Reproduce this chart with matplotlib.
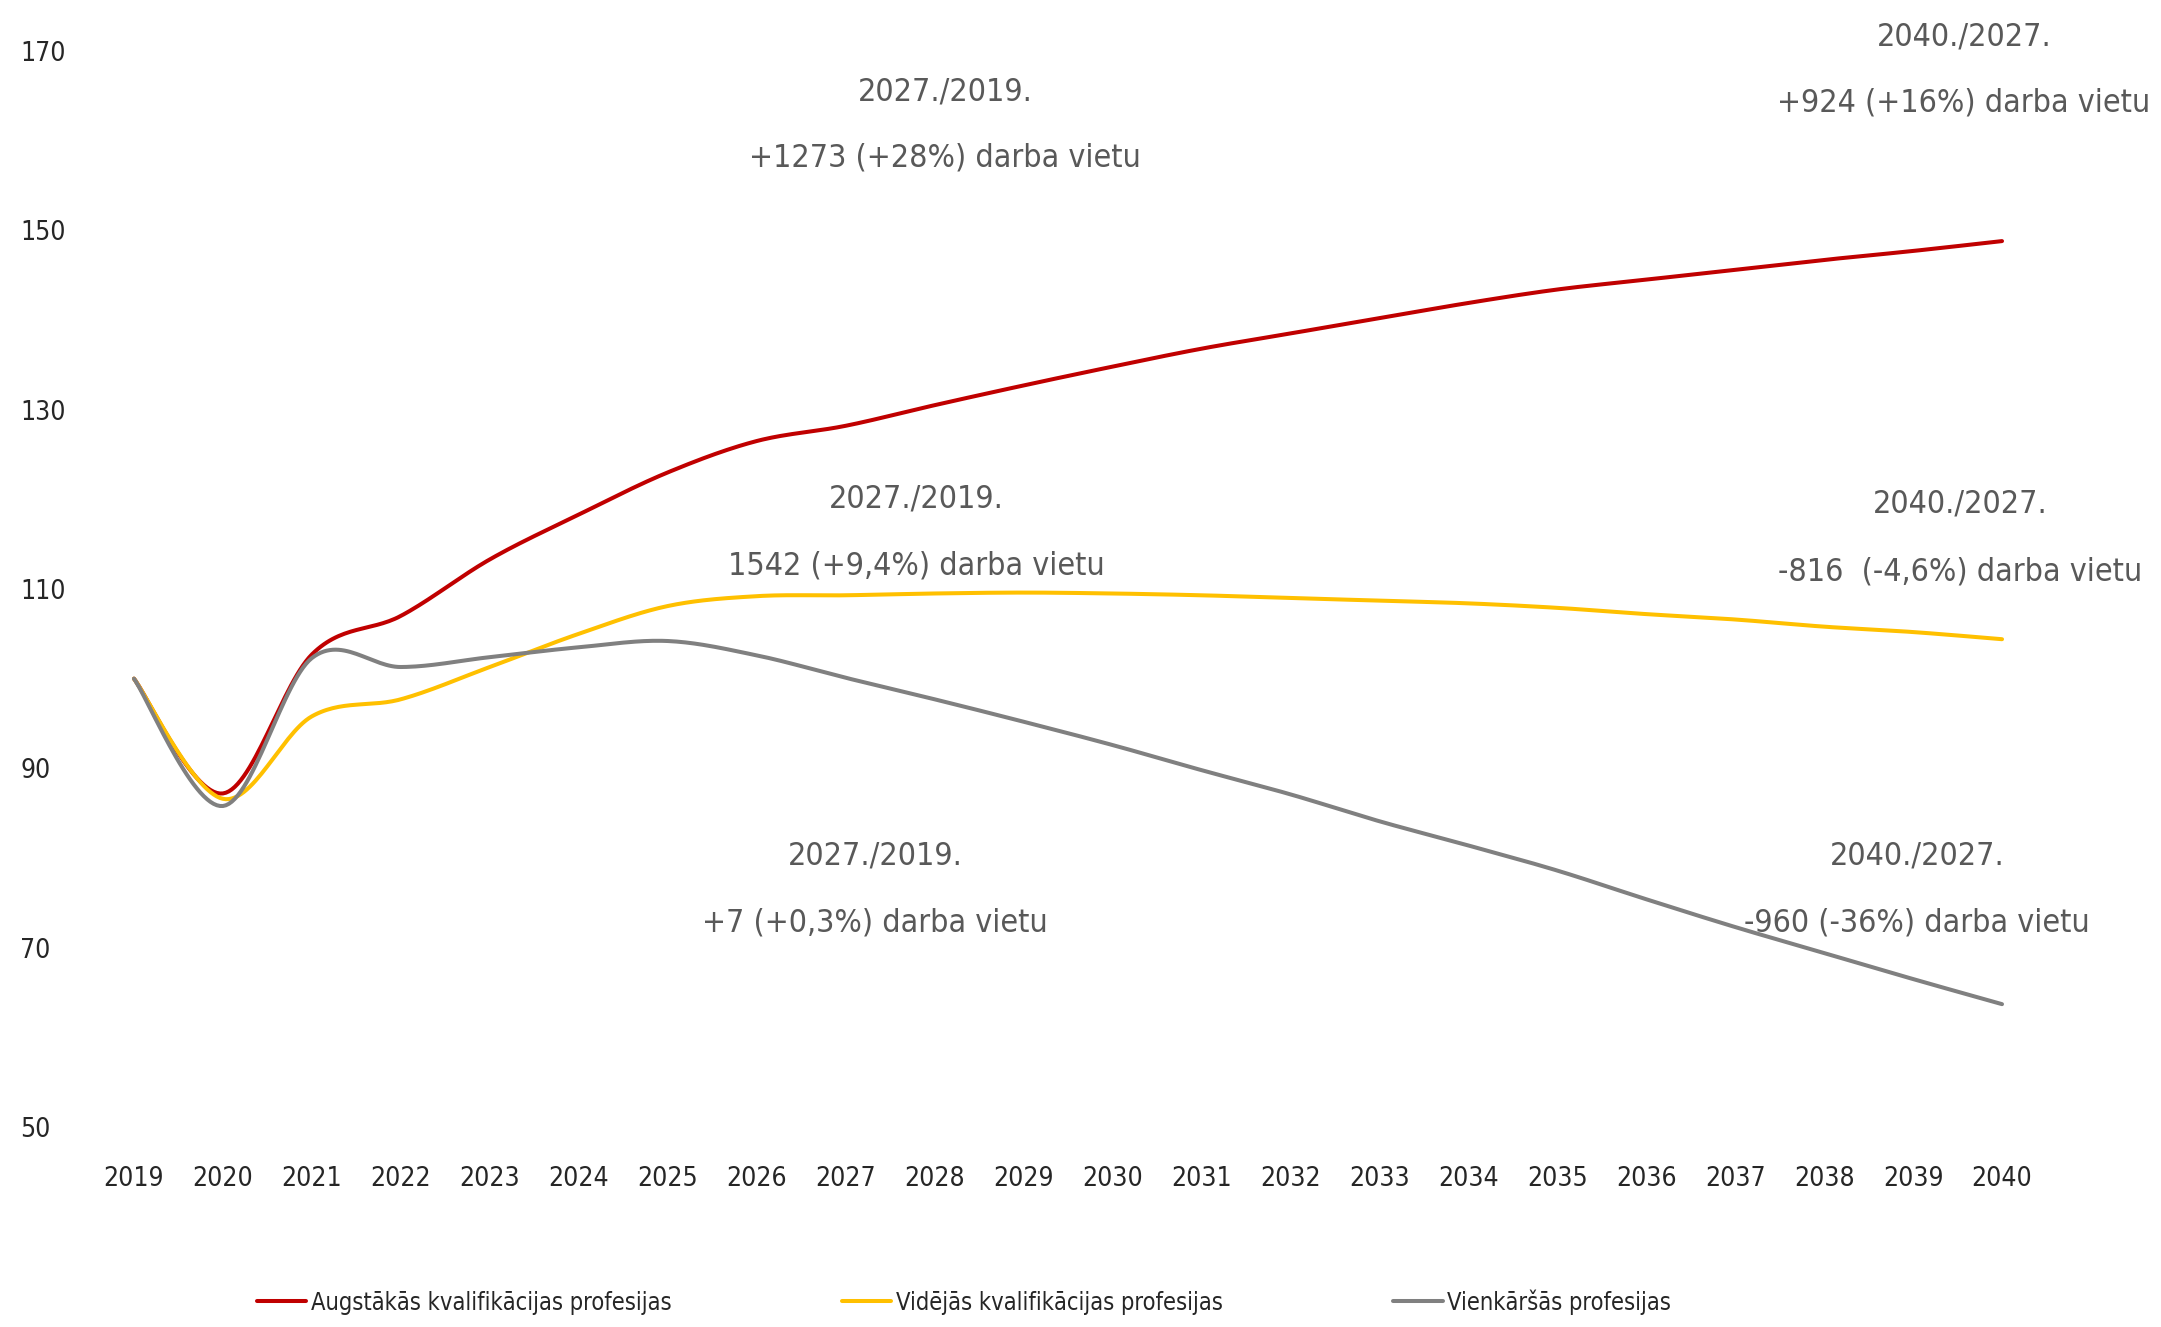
import numpy as np
import matplotlib
matplotlib.use("Agg")
import matplotlib.pyplot as plt
from matplotlib import font_manager as fm

W, H = 2161, 1327

years = list(range(2019, 2041))
augst = [100, 87.2, 102.7, 107.0, 113.3, 118.3, 123.0, 126.5, 128.2, 130.5, 132.7,
         134.8, 136.8, 138.5, 140.2, 141.9, 143.4, 144.5, 145.6, 146.7, 147.7, 148.8]
videj = [100, 86.6, 95.8, 97.7, 101.3, 105.0, 108.1, 109.2, 109.3, 109.5, 109.6,
         109.5, 109.3, 109.0, 108.7, 108.4, 107.9, 107.2, 106.6, 105.8, 105.2, 104.4]
vienk = [100, 85.8, 102.3, 101.3, 102.4, 103.5, 104.2, 102.6, 100.1, 97.7, 95.2,
         92.6, 89.8, 87.1, 84.1, 81.4, 78.6, 75.4, 72.3, 69.4, 66.5, 63.7]
names = ["Augstākās kvalifikācijas profesijas", "Vidējās kvalifikācijas profesijas",
         "Vienkāršās profesijas"]
colors = ["#C00000", "#FFC000", "#808080"]
yticks = [50, 70, 90, 110, 130, 150, 170]

# (x px, y px line 1, y px line 2, line1, line2) in the full-size picture
notes = [
    (945, 92, 158, "2027./2019.", "+1273 (+28%) darba vietu"),
    (916, 499, 566, "2027./2019.", "1542 (+9,4%) darba vietu"),
    (875, 856, 923, "2027./2019.", "+7 (+0,3%) darba vietu"),
    (1964, 37, 103, "2040./2027.", "+924 (+16%) darba vietu"),
    (1960, 504, 572, "2040./2027.", "-816  (-4,6%) darba vietu"),
    (1917, 856, 923, "2040./2027.", "-960 (-36%) darba vietu"),
]


def narrow_font():
    # pick the most condensed upright regular face that is installed
    best, key = None, None
    for f in fm.fontManager.ttflist:
        st = f.stretch if isinstance(f.stretch, int) else fm.stretch_dict.get(f.stretch, 500)
        nm = f.name.lower()
        if "narrow" in nm or "condensed" in nm:
            st = min(st, 400)
        w = f.weight if isinstance(f.weight, int) else fm.weight_dict.get(f.weight, 400)
        if f.style != "normal" or st >= 500 or "mono" in nm or "serif" in nm and "sans" not in nm:
            continue
        k = (abs(w - 400) > 100, st, abs(w - 400))
        if key is None or k < key:
            best, key = f.fname, k
    return fm.FontProperties(fname=best) if best else fm.FontProperties(family="DejaVu Sans")


def smooth(x, y, n=30):
    # Catmull-Rom curve through the yearly points, like a smoothed Excel line
    x, y = np.asarray(x, float), np.asarray(y, float)
    px = np.r_[x[0], x, x[-1]]; py = np.r_[y[0], y, y[-1]]
    t = np.linspace(0, 1, n, endpoint=False)
    xs, ys = [], []
    for i in range(1, len(px) - 2):
        for arr, out in ((px, xs), (py, ys)):
            p0, p1, p2, p3 = arr[i - 1:i + 3]
            out.append(0.5 * (2 * p1 + (-p0 + p2) * t + (2 * p0 - 5 * p1 + 4 * p2 - p3) * t ** 2
                              + (-p0 + 3 * p1 - 3 * p2 + p3) * t ** 3))
    return np.r_[np.concatenate(xs), x[-1]], np.r_[np.concatenate(ys), y[-1]]


fp = narrow_font()
tick_fp = fp.copy(); tick_fp.set_size(19)
leg_fp = fp.copy(); leg_fp.set_size(17)
note_fp = fp.copy(); note_fp.set_size(23)

fig = plt.figure(figsize=(W / 100, H / 100), dpi=100)
ax = fig.add_axes([89.5 / W, 1 - 1127 / H, 1957 / W, (1127 - 51) / H])
for vals, c, nm in zip([augst, videj, vienk], colors, names):
    sx, sy = smooth(years, vals)
    ax.plot(sx, sy, color=c, lw=2.9, label=nm, solid_capstyle="round")

ax.set_xlim(2018.5, 2040.5)
ax.set_ylim(50, 170)
ax.set_xticks(years)
ax.set_yticks(yticks)
for s in ax.spines.values():
    s.set_visible(False)
ax.tick_params(length=0)
ax.tick_params(axis="x", pad=28)
ax.tick_params(axis="y", pad=50)
for lab in ax.get_xticklabels():
    lab.set_fontproperties(tick_fp); lab.set_color("#262626")
for lab in ax.get_yticklabels():
    lab.set_fontproperties(tick_fp); lab.set_color("#262626"); lab.set_horizontalalignment("left")

for x, y1, y2, t1, t2 in notes:
    fig.text(x / W, 1 - y1 / H, t1, ha="center", va="center", color="#595959", fontproperties=note_fp)
    fig.text(x / W, 1 - y2 / H, t2, ha="center", va="center", color="#595959", fontproperties=note_fp)

fig.legend(loc="center", bbox_to_anchor=(964 / W, 25 / H), ncol=3, frameon=False, prop=leg_fp,
           handlelength=2.1, handletextpad=0.2, columnspacing=7.2, labelcolor="#262626")

fig.savefig("out.png", dpi=100)
